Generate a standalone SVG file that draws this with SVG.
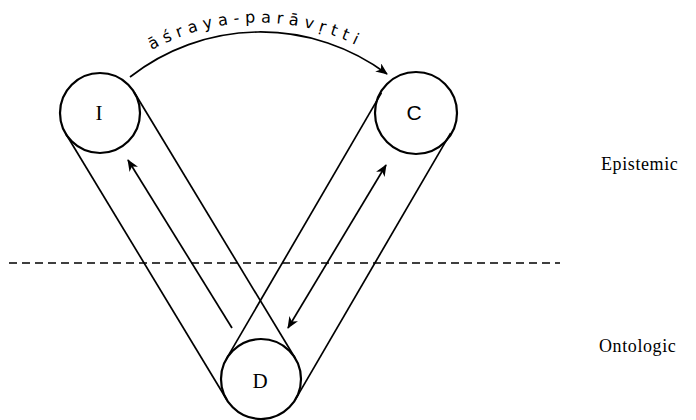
<svg xmlns="http://www.w3.org/2000/svg" width="696" height="420" viewBox="0 0 696 420">
<style>
.node circle{fill:none;stroke:#000;stroke-width:2.2}
.lbl{font-family:"Liberation Serif",serif;font-size:21px;fill:#000;text-anchor:middle}
.band{fill:none;stroke:#000;stroke-width:1.7}
.arr{fill:none;stroke:#000;stroke-width:1.7}
.side{font-family:"Liberation Serif",serif;font-size:18px;fill:#000;letter-spacing:0.6px}
</style>
<defs>
<marker id="ah" viewBox="0 0 12 10" refX="11" refY="5" markerWidth="12" markerHeight="10" markerUnits="userSpaceOnUse" orient="auto-start-reverse">
<path d="M0,0 L12,5 L0,10 L3.5,5 z" fill="#000"/>
</marker>
<path id="tp" d="M120,71.3 A221,221 0 0 1 397,71.3"/>
</defs>
<rect width="696" height="420" fill="#fff"/>
<g id="connectors">
<line class="band" x1="134.2" y1="92.3" x2="295.2" y2="358.3"/>
<line class="band" x1="65.8" y1="133.7" x2="226.8" y2="399.7"/>
<line class="band" x1="381.4" y1="92.9" x2="226.4" y2="358.9"/>
<line class="band" x1="450.6" y1="133.1" x2="295.6" y2="399.1"/>
<line class="arr" x1="232" y1="328" x2="128" y2="160" marker-end="url(#ah)"/>
<line class="arr" x1="288" y1="328" x2="386" y2="165" marker-start="url(#ah)" marker-end="url(#ah)"/>
<path class="arr" d="M130,77 A211.5,211.5 0 0 1 387,74" marker-end="url(#ah)"/>
<line x1="9" y1="263" x2="560" y2="263" stroke="#000" stroke-width="1.5" stroke-dasharray="8 5"/>
<text font-family="'DejaVu Sans',sans-serif" font-size="16" fill="#000"><textPath href="#tp" startOffset="38" textLength="212" lengthAdjust="spacing">āśraya-parāvṛtti</textPath></text>
</g>
<g id="node-I" class="node"><circle cx="100" cy="113" r="40"/><text class="lbl" x="99" y="120">I</text></g>
<g id="node-C" class="node"><circle cx="416" cy="113" r="41"/><text class="lbl" x="414" y="120" style="font-family:'Liberation Sans',sans-serif">C</text></g>
<g id="node-D" class="node"><circle cx="261" cy="379" r="40"/><text class="lbl" x="260" y="388">D</text></g>
<text class="side" x="601" y="170">Epistemic</text>
<text class="side" x="599" y="352">Ontologic</text>
</svg>
